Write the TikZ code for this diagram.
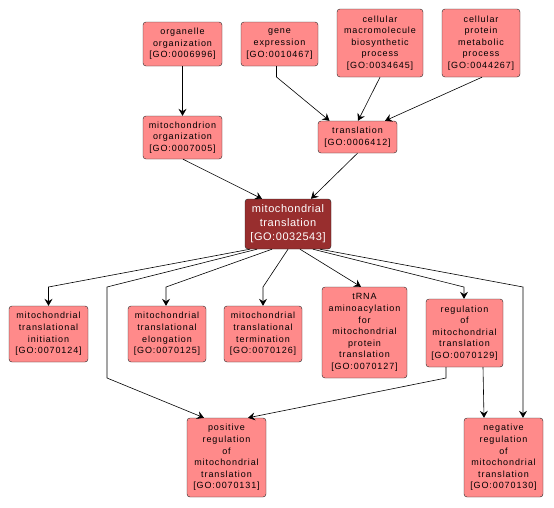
\documentclass[tikz,border=0pt]{standalone}
\usepackage{fontspec}
\setmainfont{Liberation Sans}
\newfontfamily\gofont[LetterSpace=10]{Liberation Sans}
\newfontfamily\gomainfont[LetterSpace=5]{Liberation Sans}
\usetikzlibrary{arrows.meta}
\definecolor{termfill}{RGB}{255,138,138}
\definecolor{mainfill}{RGB}{152,46,46}
\tikzset{
    term/.style={draw=black!85, fill=termfill, rounded corners=3pt, align=center,
        inner sep=0pt, minimum width=79pt, font=\gofont\fontsize{9}{11.6}\selectfont},
    mainterm/.style={term, fill=mainfill, text=white, font=\gomainfont\fontsize{11}{14}\selectfont},
    isa/.style={-{Stealth[length=7pt,width=8pt,inset=2.5pt]}, line width=0.6pt}
}
\begin{document}
\begin{tikzpicture}[x=1pt, y=-1pt]
    \useasboundingbox (0,0) rectangle (554,507);
    % Draw the terms above
    \node[term, minimum height=44pt] (orgorg) at (182.5,44) {organelle\\organization\\{[GO:0006996]}};
    \node[term, minimum width=77pt, minimum height=44pt] (geneexp) at (279.5,44) {gene\\expression\\{[GO:0010467]}};
    \node[term, minimum width=86pt, minimum height=68pt] (macro) at (380,43) {cellular\\macromolecule\\biosynthetic\\process\\{[GO:0034645]}};
    \node[term, minimum width=78pt, minimum height=68pt] (protein) at (481,43) {cellular\\protein\\metabolic\\process\\{[GO:0044267]}};
    \node[term, minimum height=43pt] (mitoorg) at (182.5,137.5) {mitochondrion\\organization\\{[GO:0007005]}};
    \node[term, minimum height=32pt] (transl) at (357.5,137) {translation\\{[GO:0006412]}};
    % The term itself
    \node[mainterm, minimum width=86pt, minimum height=50pt] (main) at (288,224) {mitochondrial\\translation\\{[GO:0032543]}};
    % Draw the terms below
    \node[term, minimum height=56pt] (init) at (48.5,334) {mitochondrial\\translational\\initiation\\{[GO:0070124]}};
    \node[term, minimum width=78pt, minimum height=56pt] (elong) at (167,334) {mitochondrial\\translational\\elongation\\{[GO:0070125]}};
    \node[term, minimum width=78pt, minimum height=56pt] (term) at (263,334) {mitochondrial\\translational\\termination\\{[GO:0070126]}};
    \node[term, minimum width=85pt, minimum height=91pt] (trna) at (364.5,332.5) {tRNA\\aminoacylation\\for\\mitochondrial\\protein\\translation\\{[GO:0070127]}};
    \node[term, minimum width=77pt, minimum height=68pt] (reg) at (464.5,333) {regulation\\of\\mitochondrial\\translation\\{[GO:0070129]}};
    \node[term, minimum height=79pt] (pos) at (226.5,457.5) {positive\\regulation\\of\\mitochondrial\\translation\\{[GO:0070131]}};
    \node[term, minimum height=79pt] (neg) at (503.5,457.5) {negative\\regulation\\of\\mitochondrial\\translation\\{[GO:0070130]}};
    % Rows where the edges bend
    \coordinate (bendtop) at (0,77);
    \coordinate (bendmid) at (0,287);
    \coordinate (bendlow) at (0,378);
    % Edges
    \draw[isa] (orgorg) -- (mitoorg);
    \draw[isa] ([xshift=-3pt]geneexp.south) -- ([xshift=-3pt]geneexp.south |- bendtop) -- ([xshift=-28pt]transl.north);
    \draw[isa] (macro.south) -- ([xshift=0.5pt]transl.north);
    \draw[isa] ([xshift=1pt]protein.south) -- ([xshift=27.5pt]transl.north);
    \draw[isa] ([xshift=0.5pt]mitoorg.south) -- ([xshift=-26pt]main.north);
    \draw[isa] (transl.south) -- ([xshift=23pt]main.north);
    \draw[isa] ([xshift=-38pt]main.south) -- (init.north |- bendmid) -- (init.north);
    \draw[isa] ([xshift=-31pt]main.south) -- (107,287) -- (107,378) -- ([xshift=-22.5pt]pos.north);
    \draw[isa] ([xshift=-16pt]main.south) -- ([xshift=-1pt]elong.north |- bendmid) -- ([xshift=-1pt]elong.north);
    \draw[isa] (main.south) -- (term.north |- bendmid) -- (term.north);
    \draw[isa] ([xshift=12pt]main.south) -- ([xshift=-3.5pt]trna.north);
    \draw[isa] ([xshift=25pt]main.south) -- ([xshift=-0.5pt]reg.north |- bendmid) -- ([xshift=-0.5pt]reg.north);
    \draw[isa] ([xshift=32pt]main.south) -- ([xshift=19.5pt]neg.north |- bendmid) -- ([xshift=19.5pt]neg.north);
    \draw[isa] ([xshift=-18.5pt]reg.south) -- ([xshift=-18.5pt]reg.south |- bendlow) -- ([xshift=21.5pt]pos.north);
    \draw[isa] ([xshift=18.5pt]reg.south) -- ([xshift=-19.5pt]neg.north);
\end{tikzpicture}
\end{document}
